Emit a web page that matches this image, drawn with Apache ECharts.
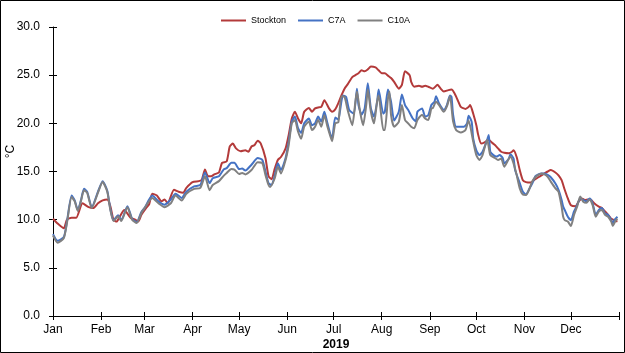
<!DOCTYPE html>
<html>
<head>
<meta charset="utf-8">
<script src="https://cdn.jsdelivr.net/npm/echarts@6/dist/echarts.min.js"></script>
<style>
  html, body { margin: 0; padding: 0; background: #fff; }
  #chart { width: 625px; height: 353px; }
</style>
</head>
<body>
<div id="chart"></div>
<script>
// day of year (0 = 1 Jan 2019), daily mean water temperature in °C
const monthNames = ['Jan', 'Feb', 'Mar', 'Apr', 'May', 'Jun', 'Jul', 'Aug', 'Sep', 'Oct', 'Nov', 'Dec'];
const monthStarts = [0, 31, 59, 90, 120, 151, 181, 212, 243, 273, 304, 334, 365];

const stockton = [
  [0, 10.1], [3, 9.6], [7, 9.1], [9, 10.0], [12, 10.2], [15, 10.2], [19, 11.7], [23, 11.3], [26, 11.2], [29, 11.7],
  [32, 12.0], [35, 12.1], [37, 11.4], [39, 10.0], [41, 9.8], [43, 10.3], [46, 11.0], [50, 10.2], [53, 10.0], [55, 9.8],
  [57, 10.5], [60, 11.2], [62, 11.6], [64, 12.7], [67, 12.5], [70, 11.9], [72, 12.1], [74, 11.7], [78, 13.1], [81, 12.9],
  [84, 12.8], [86, 13.3], [90, 13.9], [94, 14.0], [96, 14.15], [98, 15.2], [100, 14.5], [102, 14.5], [104, 14.7], [107, 14.9],
  [109, 15.9], [112, 16.05], [114, 17.6], [116, 17.9], [118, 17.4], [121, 17.1], [124, 17.2], [126, 17.05], [128, 17.6], [130, 17.75],
  [132, 18.2], [134, 17.9], [137, 16.4], [139, 14.5], [141, 14.2], [143, 15.3], [145, 16.2], [147, 16.5], [150, 17.4], [152, 18.8],
  [154, 20.5], [156, 21.2], [158, 20.5], [160, 20.0], [162, 21.2], [165, 21.6], [167, 21.2], [169, 21.55], [171, 21.65], [173, 21.7],
  [175, 22.4], [178, 21.55], [180, 21.2], [182, 21.45], [184, 22.1], [186, 22.9], [188, 23.6], [190, 24.05], [193, 24.8], [195, 25.0],
  [197, 25.2], [199, 25.5], [201, 25.4], [203, 25.6], [205, 25.9], [208, 25.8], [210, 25.5], [212, 25.2], [214, 25.2], [216, 24.95],
  [218, 24.7], [220, 24.3], [223, 23.6], [225, 24.0], [227, 25.4], [230, 25.0], [231, 24.3], [233, 23.8], [236, 23.9], [238, 23.8],
  [240, 23.9], [242, 23.8], [245, 23.6], [248, 24.0], [250, 23.6], [252, 23.3], [255, 23.45], [257, 23.5], [259, 23.1], [261, 22.4],
  [263, 21.7], [266, 21.5], [268, 21.7], [269, 21.9], [271, 21.0], [273, 19.8], [274, 18.95], [276, 17.9], [278, 18.0], [281, 18.3],
  [283, 18.0], [285, 17.75], [287, 17.4], [289, 17.05], [291, 16.95], [294, 16.9], [296, 17.05], [297, 17.2], [299, 16.5], [301, 15.15],
  [303, 14.1], [305, 13.9], [308, 13.85], [311, 14.2], [314, 14.5], [317, 14.8], [319, 15.0], [321, 15.15], [324, 14.9], [326, 14.6],
  [328, 14.1], [330, 13.1], [332, 12.2], [334, 11.5], [337, 11.4], [339, 11.9], [341, 12.2], [343, 12.05], [345, 12.1], [347, 12.05],
  [349, 11.7], [352, 11.35], [354, 11.2], [356, 10.85], [358, 10.5], [360, 10.1], [362, 9.95], [364, 9.8]
];

const c7a = [
  [0, 8.5], [3, 7.8], [7, 8.2], [9, 9.8], [12, 12.5], [14, 12.0], [16, 11.0], [18, 12.0], [20, 13.2], [22, 12.9],
  [25, 11.3], [29, 12.9], [32, 14.0], [35, 13.0], [37, 11.1], [39, 9.95], [42, 10.45], [44, 9.95], [48, 11.4], [51, 10.1],
  [54, 9.75], [57, 10.8], [59, 11.2], [64, 12.5], [68, 11.9], [72, 11.55], [76, 12.1], [79, 12.7], [83, 12.25], [86, 12.9],
  [91, 13.45], [95, 13.6], [98, 14.9], [101, 13.8], [103, 14.3], [107, 14.5], [110, 15.2], [112, 15.35], [115, 15.9], [117, 15.9],
  [120, 15.25], [122, 15.3], [124, 15.1], [128, 15.7], [132, 16.4], [135, 16.2], [137, 15.0], [139, 13.8], [141, 13.6], [143, 14.6],
  [145, 15.85], [147, 15.15], [150, 16.4], [152, 18.1], [154, 20.2], [156, 20.7], [158, 19.5], [160, 19.0], [162, 20.0], [165, 20.5],
  [167, 19.8], [169, 20.0], [171, 20.7], [173, 20.2], [175, 21.2], [177, 20.0], [179, 18.8], [180, 18.4], [182, 20.6], [184, 20.4],
  [185, 21.2], [187, 22.9], [189, 22.75], [191, 21.4], [194, 21.0], [196, 23.6], [197, 21.9], [199, 20.9], [201, 21.55], [203, 24.15],
  [205, 21.55], [207, 20.7], [209, 22.25], [210, 23.5], [213, 21.0], [214, 21.2], [216, 23.5], [218, 22.25], [220, 20.3], [223, 21.2],
  [225, 23.0], [227, 21.9], [229, 21.4], [232, 20.5], [234, 20.2], [235, 21.2], [238, 21.55], [240, 20.7], [242, 20.85], [244, 21.9],
  [246, 22.25], [247, 22.8], [249, 22.05], [252, 21.4], [254, 21.9], [256, 22.9], [257, 22.75], [258, 20.9], [260, 19.65], [262, 19.65],
  [265, 19.65], [267, 20.0], [268, 20.8], [270, 20.15], [271, 18.4], [273, 17.2], [275, 16.7], [277, 17.05], [280, 18.3], [281, 18.8],
  [282, 17.05], [284, 16.7], [286, 16.55], [288, 16.7], [290, 16.4], [291, 15.85], [294, 16.35], [295, 16.8], [297, 16.35], [298, 15.15],
  [301, 13.8], [303, 12.9], [305, 12.6], [307, 13.15], [309, 13.75], [311, 14.5], [313, 14.7], [315, 14.8], [317, 14.8], [319, 14.65],
  [321, 14.4], [324, 13.75], [326, 13.1], [328, 12.05], [329, 11.35], [330, 11.0], [332, 10.3], [334, 9.95], [336, 10.85], [338, 11.5],
  [340, 12.2], [342, 12.05], [344, 11.9], [346, 12.2], [348, 11.7], [350, 10.5], [352, 11.0], [354, 11.2], [356, 10.65], [358, 10.5],
  [360, 9.95], [361, 9.6], [362, 9.95], [364, 10.3]
];

const c10a = [
  [0, 8.35], [3, 7.6], [7, 8.1], [9, 9.65], [12, 12.35], [14, 11.9], [16, 10.9], [18, 11.9], [20, 13.05], [22, 12.8],
  [25, 11.2], [29, 12.8], [32, 13.9], [35, 12.9], [37, 11.0], [39, 9.85], [42, 10.35], [44, 9.85], [48, 11.3], [51, 10.0],
  [54, 9.65], [57, 10.7], [59, 11.2], [64, 12.25], [68, 11.7], [72, 11.3], [76, 11.7], [79, 12.5], [83, 12.0], [86, 12.7],
  [91, 13.2], [95, 13.3], [98, 14.5], [101, 13.05], [103, 13.6], [107, 14.0], [110, 14.55], [112, 14.85], [115, 15.25], [117, 15.2],
  [120, 14.75], [122, 14.85], [124, 14.7], [128, 15.15], [132, 15.95], [135, 15.85], [137, 14.65], [139, 13.6], [140, 13.4], [143, 14.3],
  [145, 15.5], [147, 14.8], [150, 16.2], [152, 17.75], [154, 20.0], [156, 20.35], [158, 19.15], [160, 18.4], [162, 19.65], [165, 20.2],
  [167, 19.3], [169, 19.65], [171, 20.35], [173, 19.65], [175, 20.85], [177, 19.65], [179, 18.6], [180, 18.15], [182, 20.0], [184, 20.1],
  [186, 22.8], [188, 22.75], [190, 21.4], [193, 19.8], [195, 22.25], [196, 23.3], [198, 21.2], [200, 19.8], [202, 21.9], [203, 23.5],
  [205, 21.2], [207, 20.0], [209, 22.25], [210, 22.9], [213, 19.3], [214, 19.3], [216, 22.6], [217, 23.3], [218, 20.85], [220, 19.65],
  [223, 20.15], [225, 21.9], [227, 20.35], [229, 20.0], [231, 19.65], [233, 19.5], [235, 20.35], [238, 20.9], [240, 20.5], [242, 20.35],
  [244, 21.55], [245, 21.6], [247, 22.25], [249, 21.9], [252, 21.2], [254, 21.75], [256, 22.8], [258, 20.2], [260, 19.3], [263, 19.05],
  [266, 19.3], [268, 20.3], [271, 18.1], [273, 16.7], [275, 16.2], [277, 16.7], [280, 18.3], [282, 16.7], [285, 16.4], [287, 16.2],
  [289, 16.35], [291, 15.5], [295, 16.55], [297, 15.85], [299, 14.65], [301, 13.25], [303, 12.6], [305, 12.55], [307, 13.1], [309, 13.95],
  [311, 14.4], [313, 14.65], [315, 14.8], [317, 14.7], [319, 14.45], [321, 13.95], [324, 13.25], [326, 12.9], [328, 11.35], [329, 10.3],
  [330, 9.95], [332, 9.8], [334, 9.35], [336, 10.5], [338, 11.35], [340, 12.4], [342, 11.85], [344, 11.75], [346, 12.1], [348, 11.5],
  [350, 10.3], [352, 10.85], [354, 11.0], [356, 10.5], [358, 10.3], [360, 9.8], [361, 9.35], [363, 9.95], [364, 10.1]
];

const font = 'Liberation Sans, Arial, sans-serif';
const chart = echarts.init(document.getElementById('chart'));

const baseX = {
  type: 'value',
  min: 0,
  max: 365,
  position: 'bottom',
  splitLine: { show: false }
};
const baseY = {
  type: 'value',
  min: 0,
  max: 30,
  interval: 5,
  position: 'left',
  splitLine: { show: false }
};

chart.setOption({
  animation: false,
  textStyle: { fontFamily: font },
  grid: { left: 53, right: 6, top: 27, bottom: 37, outerBoundsMode: 'none' },
  legend: {
    left: 216,
    top: 11,
    itemWidth: 25,
    itemHeight: 2,
    itemGap: 12,
    icon: 'rect',
    textStyle: { fontSize: 9, color: '#000', fontFamily: font },
    data: ['Stockton', 'C7A', 'C10A']
  },
  graphic: [{
    type: 'rect',
    silent: true,
    shape: { x: 0.5, y: 0.5, width: 624, height: 352 },
    style: { fill: 'none', stroke: '#000', lineWidth: 1 }
  }],
  xAxis: [
    Object.assign({}, baseX, {
      name: '2019',
      nameLocation: 'middle',
      nameGap: 23,
      nameMoveOverlap: false,
      nameTextStyle: { fontSize: 12, fontWeight: 'bold', color: '#000', fontFamily: font },
      axisLine: { onZero: false, lineStyle: { color: '#000', width: 1 } },
      axisTick: { length: 4, lineStyle: { color: '#000' }, customValues: monthStarts },
      axisLabel: {
        color: '#000',
        fontSize: 12,
        margin: 8,
        customValues: monthStarts.slice(0, 12),
        formatter: v => monthNames[monthStarts.indexOf(v)]
      }
    }),
    Object.assign({}, baseX, {
      axisLine: { show: false },
      axisTick: { inside: true, length: 4, lineStyle: { color: '#000' }, customValues: monthStarts },
      axisLabel: { show: false }
    })
  ],
  yAxis: [
    Object.assign({}, baseY, {
      name: '°C',
      nameLocation: 'middle',
      nameGap: 36,
      nameRotate: 90,
      nameMoveOverlap: false,
      nameTextStyle: { fontSize: 12, color: '#000', fontFamily: font, padding: [0, 0, 0, 40] },
      axisLine: { show: true, onZero: false, lineStyle: { color: '#000', width: 1 } },
      axisTick: { show: true, length: 4, lineStyle: { color: '#000' } },
      axisLabel: { color: '#000', fontSize: 12, margin: 13, formatter: v => v.toFixed(1) }
    }),
    Object.assign({}, baseY, {
      axisLine: { show: false },
      axisTick: { show: true, inside: true, length: 4, lineStyle: { color: '#000' } },
      axisLabel: { show: false }
    })
  ],
  series: [
    { name: 'Stockton', color: '#B33A3A', data: stockton },
    { name: 'C7A', color: '#4472C4', data: c7a },
    { name: 'C10A', color: '#808080', data: c10a }
  ].map(s => ({
    name: s.name,
    type: 'line',
    xAxisIndex: 0,
    yAxisIndex: 0,
    data: s.data,
    smooth: 0.2,
    showSymbol: false,
    symbol: 'none',
    itemStyle: { color: s.color },
    lineStyle: { color: s.color, width: 2 }
  }))
});
</script>
</body>
</html>
